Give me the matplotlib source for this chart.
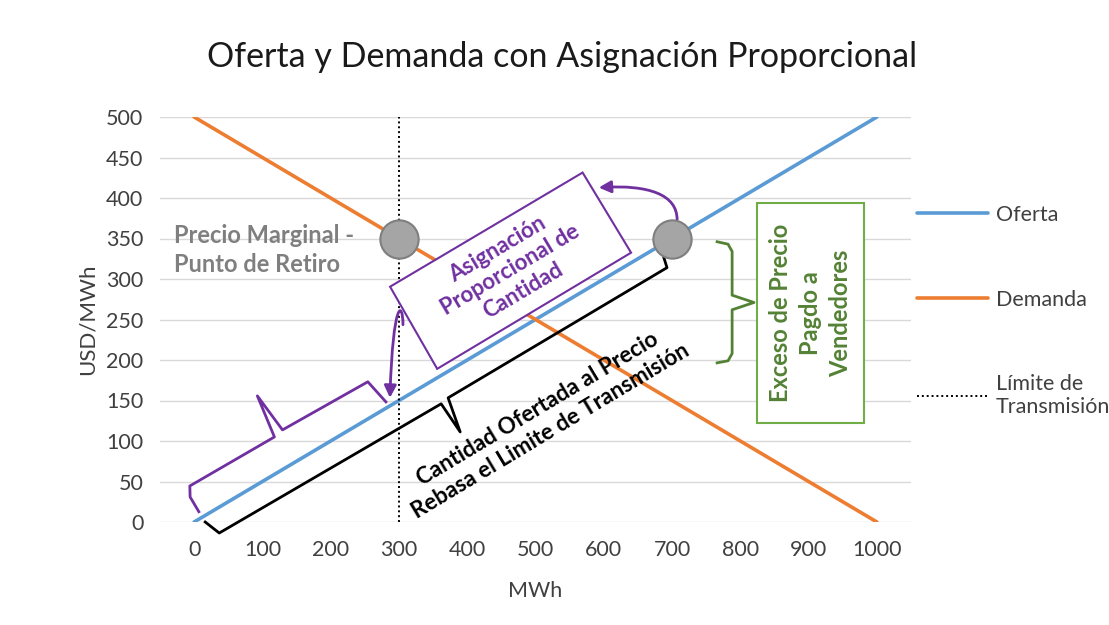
import matplotlib
matplotlib.use("Agg")
import matplotlib.pyplot as plt
from matplotlib.patches import Polygon, Rectangle, FancyArrowPatch
from matplotlib.path import Path
from matplotlib.lines import Line2D

plt.rcParams['font.family'] = ['Lato', 'DejaVu Sans']

# data
mwh = [0, 100, 200, 300, 400, 500, 600, 700, 800, 900, 1000]
oferta = [0, 50, 100, 150, 200, 250, 300, 350, 400, 450, 500]
demanda = [500, 450, 400, 350, 300, 250, 200, 150, 100, 50, 0]
limite_x = [300, 300]
limite_y = [0, 500]
puntos_x = [300, 700]
puntos_y = [350, 350]

blue = '#5B9BD5'
orange = '#ED7D31'
purple = '#7030A0'
green_txt = '#548235'
green_box = '#70AD47'
gray_txt = '#7F7F7F'

fig = plt.figure(figsize=(11.09, 6.25), dpi=100)
ax = fig.add_axes([160/1109, 1-522/625, 751/1109, 405/625])

ax.plot(mwh, oferta, color=blue, lw=2.6, solid_capstyle='round', zorder=3)
ax.plot(mwh, demanda, color=orange, lw=2.6, solid_capstyle='round', zorder=3)
ax.plot(limite_x, limite_y, color='black', lw=1.4, ls=(0, (1, 1.5)), zorder=3)

ax.set_xlim(-50, 1050)
ax.set_ylim(0, 500)
ax.set_xticks(mwh)
ax.set_yticks(range(0, 501, 50))
ax.tick_params(length=0, labelsize=15.5, colors='#404040', pad=12)
ax.tick_params(axis='x', pad=13)
ax.grid(axis='y', color='#D9D9D9', lw=1)
ax.set_axisbelow(True)
for s in ax.spines.values():
    s.set_visible(False)

ax.set_xlabel('MWh', fontsize=15.5, color='#404040')
ax.xaxis.set_label_coords(0.5, -0.145)
ax.set_ylabel('USD/MWh', fontsize=16, color='#404040')
ax.yaxis.set_label_coords(-0.083, 0.5)

fig.suptitle('Oferta y Demanda con Asignación Proporcional', x=562/1109, y=1-41/625,
             va='top', fontsize=24.5, color='#1a1a1a')

# green box and brace
ax.add_patch(Rectangle((825, 122.4), 156, 272, facecolor='white', edgecolor=green_box,
                       lw=1.5, zorder=4))
ax.text(903, 258, 'Exceso de Precio\nPagdo a\nVendedores', rotation=90, ha='center', va='center',
        fontsize=17, fontweight='bold', color=green_txt, linespacing=1.38, zorder=5)
ax.plot([766, 782, 788, 788, 820, 788, 788, 782, 766],
        [346, 343, 334, 280, 271, 262, 208, 199, 196.5],
        color=green_txt, lw=2, zorder=4, solid_joinstyle='round')

# purple box
ax.add_patch(Polygon([(287, 290.5), (569, 431.4), (640, 332.5), (356, 189.1)], closed=True,
                     facecolor='white', edgecolor=purple, lw=1.5, zorder=4))
ax.text(463, 311, 'Asignación\nProporcional de\nCantidad', rotation=30.7, ha='center', va='center',
        rotation_mode='anchor', fontsize=16, fontweight='bold', color=purple, linespacing=1.2, zorder=5)

# purple brace over supply segment
ax.plot([6.9, -5.9, -6.3, 117.6, 92.6, 129.4, 254.4, 280.9],
        [12.7, 30.9, 44.5, 105, 155.7, 113.7, 173.1, 148.3],
        color=purple, lw=2, zorder=4, solid_joinstyle='round', clip_on=False)

# purple arrows
arr1 = Path([(305.9, 243.5), (305.9, 274.4), (291.2, 274.4), (286.8, 153.3)],
            [Path.MOVETO, Path.CURVE4, Path.CURVE4, Path.CURVE4])
ax.add_patch(FancyArrowPatch(path=arr1, arrowstyle='-|>', mutation_scale=18, color=purple, lw=2, zorder=6))
arr2 = Path([(707.4, 373.3), (707.4, 404.2), (666.2, 416.6), (592.6, 412.9)],
            [Path.MOVETO, Path.CURVE4, Path.CURVE4, Path.CURVE4])
ax.add_patch(FancyArrowPatch(path=arr2, arrowstyle='-|>', mutation_scale=18, color=purple, lw=2, zorder=6))

# black brace under supply segment
ax.plot([16.2, 36.8, 361.8, 389.7, 372, 692.6, 685.3],
        [0, -13.6, 145.9, 111.2, 153.3, 314, 333.7],
        color='black', lw=2, zorder=4, solid_joinstyle='round', clip_on=False)
ax.text(513, 126, 'Cantidad Ofertada al Precio\nRebasa el Limite de Transmisión', rotation=31,
        rotation_mode='anchor', ha='center', va='center', fontsize=16.2, fontweight='bold',
        color='black', linespacing=1.25, zorder=5)

# points
ax.scatter(puntos_x, puntos_y, s=760, color='#A5A5A5', edgecolor='#7F7F7F', lw=1.5, zorder=7)
ax.text(-29.4, 336, 'Precio Marginal -\nPunto de Retiro', ha='left', va='center', fontsize=17,
        fontweight='bold', color=gray_txt, linespacing=1.32, zorder=5)

handles = [Line2D([], [], color=blue, lw=2.6, solid_capstyle='round'),
           Line2D([], [], color=orange, lw=2.6, solid_capstyle='round'),
           Line2D([], [], color='black', lw=1.4, ls=(0, (1, 1.5)))]
ax.legend(handles, ['Oferta', 'Demanda', 'Límite de\nTransmisión'], loc='upper left',
          bbox_to_anchor=(917/1109, 1-205/625), bbox_transform=fig.transFigure,
          frameon=False, fontsize=15.5, handlelength=3.3, handletextpad=0.35,
          labelspacing=3.0, borderpad=0, borderaxespad=0, labelcolor='#404040')

fig.savefig('out.png', dpi=100)
